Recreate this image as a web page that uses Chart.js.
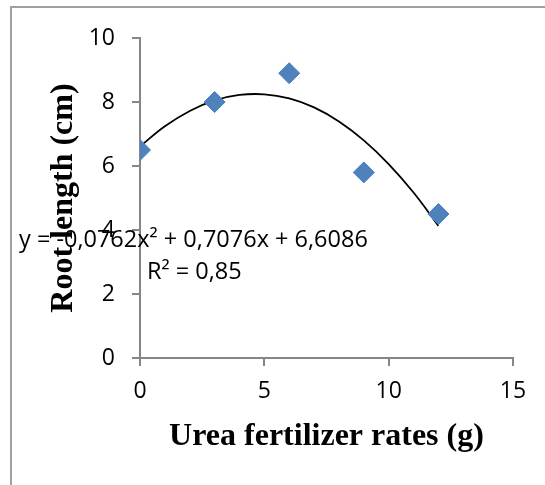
<!DOCTYPE html>
<html>
<head>
<meta charset="utf-8">
<script src="https://cdn.jsdelivr.net/npm/chart.js@4/dist/chart.umd.min.js"></script>
<style>
  html, body { margin: 0; padding: 0; background: #fff; }
  #wrap { width: 545px; height: 485px; }
</style>
</head>
<body>
<div id="wrap"><canvas id="c" width="545" height="485"></canvas></div>
<script>
// observed points
var rates = [0, 3, 6, 9, 12];
var rootLength = [6.5, 8.0, 8.9, 5.8, 4.5];

// polynomial trendline
var trendX = [0, 1, 2, 3, 4, 5, 6, 7, 8, 9, 10, 11, 12];
var trendY = [6.61, 7.24, 7.72, 8.05, 8.22, 8.24, 8.11, 7.83, 7.39, 6.80, 6.06, 5.17, 4.13];

var xTicks = [0, 5, 10, 15];
var yTicks = [0, 2, 4, 6, 8, 10];

var eqText = 'y = -0,0762x\u00b2 + 0,7076x + 6,6086';
var r2Text = 'R\u00b2 = 0,85';

var axisGray = '#868686';
var tickFont = { family: "'Open Sans', 'Noto Sans', sans-serif", size: 23 };
var titleFont = { family: "'Liberation Serif', 'Times New Roman', serif", size: 32, weight: 'bold' };

function toPoints(xs, ys) {
  return xs.map(function(x, i) { return { x: x, y: ys[i] }; });
}

var framePlugin = {
  id: 'frame',
  beforeDraw: function(chart) {
    var ctx = chart.ctx;
    ctx.save();
    ctx.strokeStyle = '#a0a0a0';
    ctx.lineWidth = 2;
    ctx.beginPath();
    ctx.moveTo(11, chart.height + 5);
    ctx.lineTo(11, 7);
    ctx.lineTo(chart.width + 5, 7);
    ctx.stroke();
    ctx.restore();
  }
};

var labelPlugin = {
  id: 'eqLabel',
  afterDraw: function(chart) {
    var ctx = chart.ctx;
    var a = chart.chartArea;
    ctx.save();
    ctx.fillStyle = '#000';
    ctx.font = "23.5px 'Open Sans', 'Noto Sans', sans-serif";
    ctx.textBaseline = 'middle';
    ctx.textAlign = 'left';
    ctx.fillText(eqText, a.left - 121, a.top + 202);
    ctx.fillText(r2Text, a.left + 7, a.top + 234);
    ctx.restore();
  }
};

new Chart(document.getElementById('c'), {
  type: 'scatter',
  data: {
    datasets: [{
      label: 'trend',
      type: 'line',
      data: toPoints(trendX, trendY),
      borderColor: '#000',
      borderWidth: 1.8,
      pointRadius: 0,
      tension: 0.4,
      fill: false,
      order: 2
    }, {
      label: 'Root length',
      data: toPoints(rates, rootLength),
      pointStyle: 'rectRot',
      pointRadius: 10.5,
      backgroundColor: '#4f81bd',
      borderColor: '#4a7ebb',
      borderWidth: 1,
      order: 1
    }]
  },
  options: {
    responsive: false,
    animation: false,
    layout: { padding: { left: 41, right: 32, top: 38, bottom: 25 } },
    plugins: { legend: { display: false }, tooltip: { enabled: false } },
    scales: {
      x: {
        type: 'linear',
        min: 0, max: 15,
        afterBuildTicks: function(s) { s.ticks = xTicks.map(function(v) { return { value: v }; }); },
        afterFit: function(s) { s.height = 102; },
        grid: { display: true, drawOnChartArea: false, drawTicks: true, tickLength: 8, color: axisGray, lineWidth: 2 },
        border: { display: true, color: axisGray, width: 2 },
        ticks: { color: '#000', font: tickFont, padding: 12, maxRotation: 0 },
        title: { display: true, text: 'Urea fertilizer rates (g)', color: '#000', font: titleFont, padding: { top: 4, bottom: 4 } }
      },
      y: {
        type: 'linear',
        min: 0, max: 10,
        afterBuildTicks: function(s) { s.ticks = yTicks.map(function(v) { return { value: v }; }); },
        afterFit: function(s) { s.width = 99; },
        grid: { display: true, drawOnChartArea: false, drawTicks: true, tickLength: 8, color: axisGray, lineWidth: 2 },
        border: { display: true, color: axisGray, width: 2 },
        ticks: { color: '#000', font: tickFont, padding: 17 },
        title: { display: true, text: 'Root length (cm)', color: '#000', font: titleFont, padding: { top: 4, bottom: 4 } }
      }
    }
  },
  plugins: [framePlugin, labelPlugin]
});
</script>
</body>
</html>
